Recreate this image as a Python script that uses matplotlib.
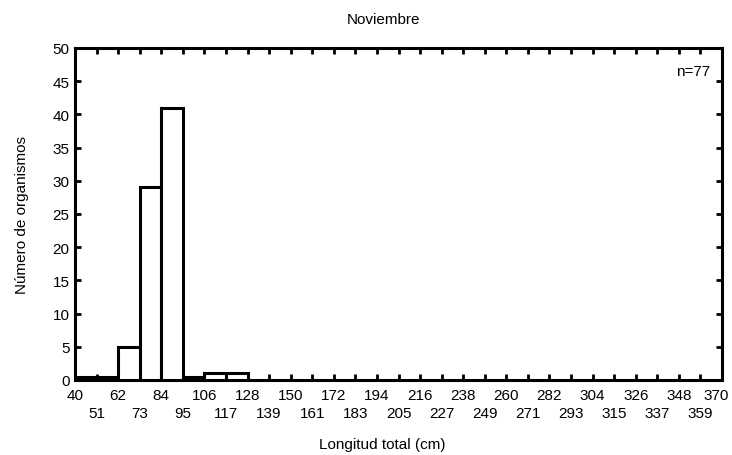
import numpy as np
import matplotlib.pyplot as plt
from matplotlib.transforms import ScaledTranslation

plt.rcParams['font.family'] = ['Liberation Sans', 'DejaVu Sans']

# bin edges (cm) and counts
bin_edges = list(range(40, 371, 11))
counts = [0.5, 0.5, 5, 29, 41, 0.5, 1, 1]
title = "Noviembre"
n_label = "n=77"

W, H = 732, 456
fig = plt.figure(figsize=(W / 100, H / 100), dpi=100)
# axes box in pixels: x 75..722, y 49..381
ax = fig.add_axes([75 / W, 1 - 381 / H, (722 - 75) / W, (381 - 49) / H])

ax.bar(bin_edges[:len(counts)], counts, width=11, align='edge',
       color='white', edgecolor='black', linewidth=2.2, zorder=3)

ax.set_xlim(40, 370)
ax.set_ylim(0, 50)

# alternate tick labels on two rows: even ones as major, odd ones as minor
ax.set_xticks(bin_edges[::2])
ax.set_xticklabels([str(v) for v in bin_edges[::2]])
ax.set_xticks(bin_edges[1::2], minor=True)
ax.set_xticklabels([str(v) for v in bin_edges[1::2]], minor=True)
ax.set_yticks(range(0, 51, 5))

ax.tick_params(which='both', direction='in', length=4, width=2,
               top=True, right=True, labelsize=11)
ax.tick_params(axis='x', which='major', pad=6)
ax.tick_params(axis='x', which='minor', pad=18.5)
ax.tick_params(axis='y', pad=4)

# last label pulled in so it stays inside the figure
last = ax.get_xticklabels()[-1]
last.set_transform(last.get_transform() + ScaledTranslation(-4 / 72, 0, fig.dpi_scale_trans))

for s in ax.spines.values():
    s.set_linewidth(2.2)

fig.text(383 / W, 1 - 20 / H, title, ha='center', va='center', fontsize=11)
fig.text(382 / W, 1 - 445 / H, "Longitud total (cm)", ha='center', va='center', fontsize=11)
fig.text(22 / W, 1 - 215 / H, "Número de organismos", ha='center', va='center',
         rotation=90, fontsize=11)
ax.text(0.981, 0.931, n_label, transform=ax.transAxes, ha='right', va='center', fontsize=11)

fig.savefig("out.png", dpi=100)
